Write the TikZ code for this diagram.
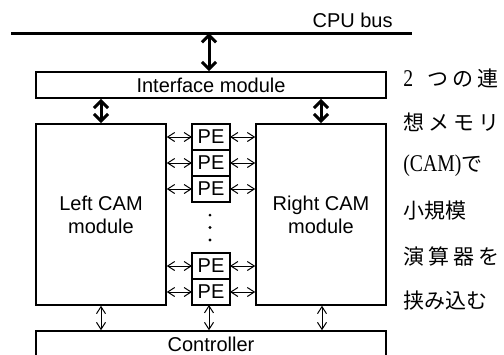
\documentclass[tikz,border=0pt]{standalone}
\usepackage{fontspec}
\setsansfont{Liberation Sans}
\newfontfamily\jpfont{Noto Sans CJK JP}
\newfontfamily\jplatin[FakeStretch=0.82]{Liberation Serif}
\usepackage{tikz}
\usetikzlibrary{positioning,calc,arrows.meta}

\begin{document}
\begin{tikzpicture}[x=0.5pt, y=-0.5pt,
  every node/.style={align=center, font=\sffamily\fontsize{10}{11.5}\selectfont},
  box/.style={draw, line width=0.75pt, inner sep=0pt},
  pebox/.style={draw, line width=0.75pt, inner sep=0pt, outer sep=0pt, minimum width=19pt, minimum height=13pt},
  dotmark/.style={circle, fill, inner sep=0pt, minimum size=1.6pt},
  busarrow/.style={{Straight Barb[length=3.6pt,width=7pt]}-{Straight Barb[length=3.6pt,width=7pt]}, line width=1.5pt},
  sigarrow/.style={{Straight Barb[length=3.5pt,width=4.5pt]}-{Straight Barb[length=3.5pt,width=4.5pt]}, line width=0.5pt},
  jptext/.style={anchor=west, inner sep=0pt, font=\jpfont\fontsize{10.5}{12}\selectfont}]
  \useasboundingbox (0,0) rectangle (504,354);

  % Bus
  \coordinate (busL) at (11,33);
  \coordinate (busR) at (412,33);
  \coordinate (busjoin) at (209,33);
  \draw[line width=1.5pt] (busL) -- (busR);
  \node[anchor=base east, inner sep=0pt] (buslabel) at (393,27.5) {CPU bus};

  % Nodes
  \node[box, minimum width=175pt, minimum height=13pt] (iface) at (211,85) {Interface module};
  \node[box, minimum width=65pt, minimum height=90.5pt] (lcam) at (101,214.5) {Left CAM\\module};
  \node[box, minimum width=65pt, minimum height=90.5pt] (rcam) at (321,214.5) {Right CAM\\module};
  \node[pebox] (pe1) at (211,137) {PE};
  \node[pebox, below=0pt of pe1] (pe2) {PE};
  \node[pebox, below=0pt of pe2] (pe3) {PE};
  \node[pebox, below=25.5pt of pe3] (pe4) {PE};
  \node[pebox, below=0pt of pe4] (pe5) {PE};
  \node[dotmark] (dot2) at ($(pe3.south)!0.5!(pe4.north)+(-1,0)$) {};
  \node[dotmark, above=4.2pt of dot2] (dot1) {};
  \node[dotmark, below=4.2pt of dot2] (dot3) {};
  \node[box, minimum width=175pt, minimum height=13pt] (ctrl) at (211,344) {Controller};

  % Text beside the diagram
  \node[jptext] (jp1) at (403,78) {{\jplatin\fontsize{12}{12}\selectfont 2}\hspace{7pt}つ\hspace{2pt}の\hspace{2pt}連};
  \node[jptext] (jp2) at (403,122.5) {想\hspace{2pt}メ\hspace{2pt}モ\hspace{2pt}リ};
  \node[jptext] (jp3) at (403,166) {{\jplatin\fontsize{12}{12}\selectfont (CAM)}で};
  \node[jptext] (jp4) at (403,211) {小規模};
  \node[jptext] (jp5) at (403,256) {演\hspace{2pt}算\hspace{2pt}器\hspace{2pt}を};
  \node[jptext] (jp6) at (403,300.5) {挟み込む};

  % Arrows
  \draw[busarrow] (busjoin) -- (busjoin |- iface.north);
  \draw[busarrow] (iface.south -| lcam) -- (lcam.north);
  \draw[busarrow] (iface.south -| rcam) -- (rcam.north);
  \draw[sigarrow] (lcam.east |- pe1) -- (pe1.west);
  \draw[sigarrow] (lcam.east |- pe2) -- (pe2.west);
  \draw[sigarrow] (lcam.east |- pe3) -- (pe3.west);
  \draw[sigarrow] (lcam.east |- pe4) -- (pe4.west);
  \draw[sigarrow] (lcam.east |- pe5) -- (pe5.west);
  \draw[sigarrow] (pe1.east) -- (rcam.west |- pe1);
  \draw[sigarrow] (pe2.east) -- (rcam.west |- pe2);
  \draw[sigarrow] (pe3.east) -- (rcam.west |- pe3);
  \draw[sigarrow] (pe4.east) -- (rcam.west |- pe4);
  \draw[sigarrow] (pe5.east) -- (rcam.west |- pe5);
  \draw[sigarrow] (lcam.south) -- (lcam.south |- ctrl.north);
  \draw[sigarrow] ([xshift=-1pt]pe5.south) -- ([xshift=-1pt]pe5.south |- ctrl.north);
  \draw[sigarrow] ([xshift=0.5pt]rcam.south) -- ([xshift=0.5pt]rcam.south |- ctrl.north);
\end{tikzpicture}
\end{document}
